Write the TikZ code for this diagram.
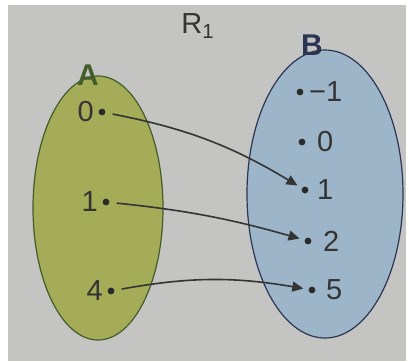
\documentclass[tikz,border=0pt]{standalone}
\usepackage{fontspec}
\setmainfont{Liberation Sans}
\usetikzlibrary{shapes.geometric, arrows.meta, positioning}
\definecolor{papergray}{RGB}{196,196,194}
\definecolor{setgreen}{RGB}{164,172,88}
\definecolor{setgreenline}{RGB}{66,92,42}
\definecolor{setblue}{RGB}{156,181,200}
\definecolor{setblueline}{RGB}{44,54,84}
\definecolor{inkgray}{RGB}{52,52,52}

\begin{document}
\begin{tikzpicture}[
  x=0.5pt, y=-0.5pt,
  set/.style={ellipse, inner sep=0pt, line width=0.6pt},
  dot/.style={circle, fill=inkgray!80!black, inner sep=0pt, minimum size=3.4pt},
  num/.style={font=\fontsize{14.5}{16}\selectfont, text=inkgray, inner sep=0.5pt},
  setname/.style={font=\fontsize{15}{17}\selectfont\bfseries, inner sep=0.5pt},
  maparrow/.style={-{Triangle[length=5.5pt,width=5pt]}, line width=0.8pt, inkgray,
                   shorten <=3.5pt, shorten >=2.5pt}
]

\useasboundingbox (0,0) rectangle (409,361);
\fill[papergray] (8,5) rectangle (406,361);

% Sets
\node[set, draw=setgreenline, fill=setgreen, minimum width=65pt, minimum height=132pt] (setA) at (98,208) {};
\node[set, draw=setblueline, fill=setblue, minimum width=78pt, minimum height=144pt] (setB) at (325,194) {};

% Titles
\node[num] (rel) at (198,26) {R\textsubscript{1}};
\node[setname, text=setgreenline] (nameA) at (88,75) {A};
\node[setname, text=setblueline] (nameB) at (312,45) {B};

% Elements of A
\node[dot] (a0) at (102,112) {};
\node[dot] (a1) at (106,202) {};
\node[dot] (a4) at (111,291) {};
\node[num, left=1.5pt of a0] (la0) {0};
\node[num, left=1.5pt of a1] (la1) {1};
\node[num, left=1.5pt of a4] (la4) {4};

% Elements of B
\node[dot] (bm1) at (300,92) {};
\node[dot] (b0) at (302,142) {};
\node[dot] (b1) at (305,190) {};
\node[dot] (b2) at (308,241) {};
\node[dot] (b5) at (312,290) {};
\node[num, right=2pt of bm1] (lbm1) {−1};
\node[num, right=5pt of b0] (lb0) {0};
\node[num, right=3.5pt of b1] (lb1) {1};
\node[num, right=5pt of b2] (lb2) {2};
\node[num, right=4.5pt of b5] (lb5) {5};

% Arrows
\draw[maparrow] (a0) to[bend left=10] (b1);
\draw[maparrow] (a1) to[bend left=5] (b2);
\draw[maparrow] (a4) to[bend left=10] (b5);

\end{tikzpicture}
\end{document}
